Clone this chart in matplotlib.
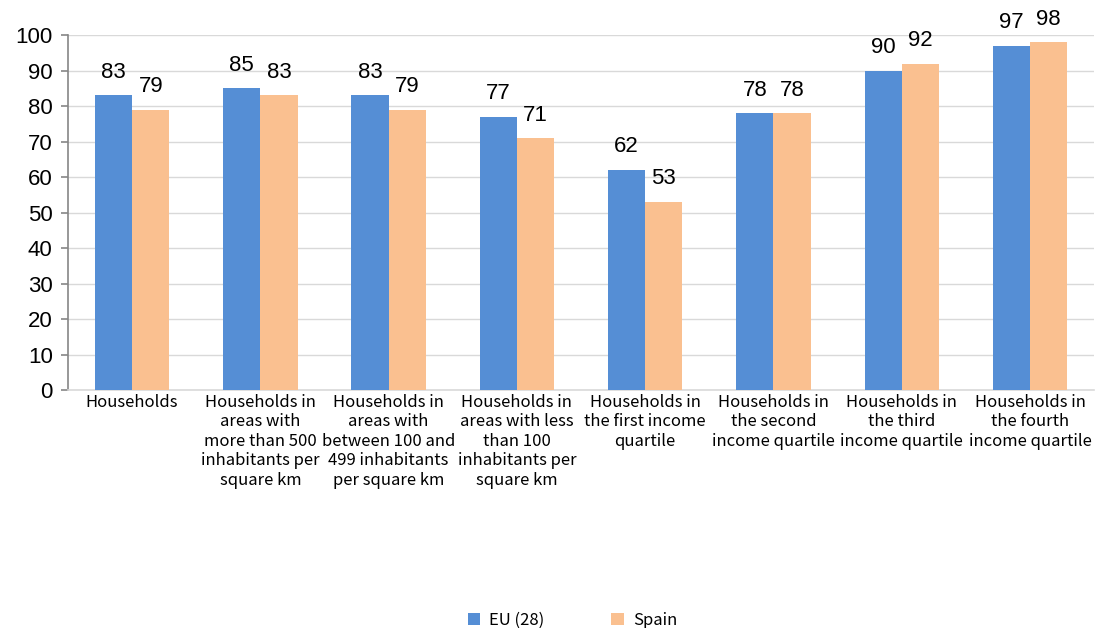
import matplotlib
matplotlib.use('Agg')
import matplotlib.pyplot as plt
import numpy as np

categories = [
    'Households',
    'Households in\nareas with\nmore than 500\ninhabitants per\nsquare km',
    'Households in\nareas with\nbetween 100 and\n499 inhabitants\nper square km',
    'Households in\nareas with less\nthan 100\ninhabitants per\nsquare km',
    'Households in\nthe first income\nquartile',
    'Households in\nthe second\nincome quartile',
    'Households in\nthe third\nincome quartile',
    'Households in\nthe fourth\nincome quartile',
]
eu = [83, 85, 83, 77, 62, 78, 90, 97]
spain = [79, 83, 79, 71, 53, 78, 92, 98]

blue = '#558ED5'
orange = '#FAC090'
label_font = ['Noto Sans CJK KR', 'DejaVu Sans']
num_font = ['Liberation Sans', 'DejaVu Sans']

fig = plt.figure(figsize=(11.07, 6.28), dpi=100)
ax = fig.add_axes([0.0614, 0.379, 0.927, 0.565])

x = np.arange(len(categories))
w = 0.29
b1 = ax.bar(x - w / 2, eu, w, color=blue, label='EU (28)', zorder=3)
b2 = ax.bar(x + w / 2, spain, w, color=orange, label='Spain', zorder=3)

for bars in (b1, b2):
    for r in bars:
        ax.annotate('{:d}'.format(int(r.get_height())),
                    (r.get_x() + r.get_width() / 2, r.get_height()),
                    xytext=(0, 9), textcoords='offset points',
                    ha='center', va='bottom', fontsize=16, family=num_font)

ax.set_xlim(-0.5, len(categories) - 0.5)
ax.set_ylim(0, 100)
ax.set_yticks(range(0, 101, 10))
ax.set_yticklabels([str(v) for v in range(0, 101, 10)], fontsize=16, family=num_font)
ax.set_xticks(x)
ax.set_xticklabels(categories, fontsize=12, family=label_font, linespacing=1.18, va='top')
ax.tick_params(axis='x', length=0, pad=3)
ax.tick_params(axis='y', length=5, color='#868686', width=1.2, pad=6)

ax.grid(axis='y', color='#D9D9D9', linewidth=1, zorder=0)
for s in ('top', 'right'):
    ax.spines[s].set_visible(False)
ax.spines['left'].set_color('#868686')
ax.spines['left'].set_linewidth(1.2)
ax.spines['bottom'].set_color('#D9D9D9')
ax.spines['bottom'].set_linewidth(1.2)

leg = fig.legend(loc='lower center', bbox_to_anchor=(0.517, -0.025), ncol=2, frameon=False,
                 prop={'family': label_font, 'size': 12}, handlelength=0.75, handleheight=0.75,
                 columnspacing=4.0, handletextpad=0.55)

fig.savefig('out.png', dpi=100)
